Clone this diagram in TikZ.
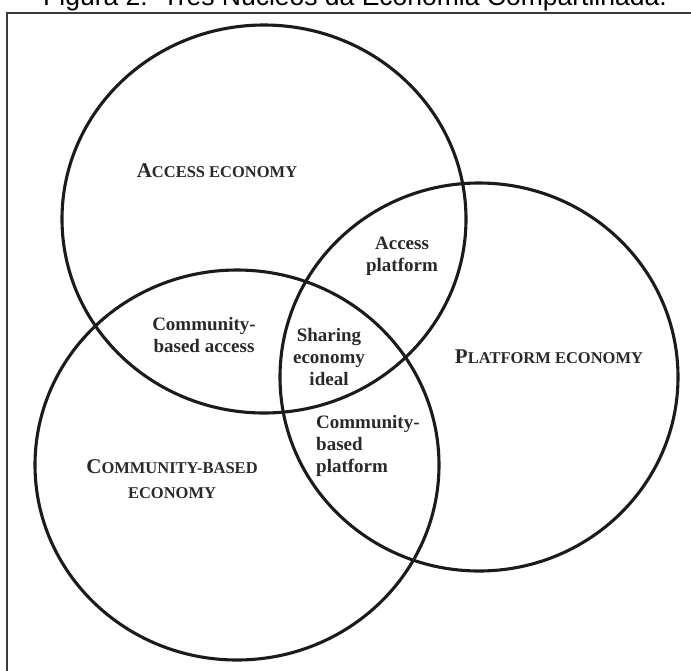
\documentclass[tikz,border=0pt]{standalone}
\usepackage{fontspec}
\setmainfont{Liberation Serif}
\newfontfamily\captionfont{Liberation Sans}
\usetikzlibrary{shapes.geometric}
\definecolor{ink}{HTML}{1C1A1A}
\definecolor{textink}{HTML}{2A2828}
\definecolor{framegray}{HTML}{3A3A3A}
% fake small caps: large initial, smaller capitals after it
\newcommand\scInitial[1]{{\fontsize{21}{25}\selectfont #1}}
\newcommand\scRest[1]{{\fontsize{16.5}{25}\selectfont #1}}
\begin{document}
\begin{tikzpicture}[x=1pt,y=-1pt,
  ring/.style={ellipse, draw=ink, line width=3.1pt, inner sep=0pt},
  lbl/.style={font=\bfseries\fontsize{19}{22}\selectfont, text=textink, inner sep=0pt},
  sclbl/.style={font=\bfseries\fontsize{16.5}{25}\selectfont, text=textink, inner sep=0pt, align=center}]
\useasboundingbox (0,0) rectangle (691,670);
% outer frame, running off the right and bottom edges
\draw[line width=1.4pt, draw=framegray] (7,13) rectangle (720,700);
% caption above the frame
\node[anchor=base, inner sep=0pt, font=\captionfont\fontsize{26.5}{28}\selectfont, text=black]
  (caption) at (355,5) {Figura 2:\ \ Três Núcleos da Economia Compartilhada.};
% the three overlapping economies
\node[ring, minimum width=404pt, minimum height=388pt] (access) at (264,219) {};
\node[ring, minimum width=398pt, minimum height=388pt] (platform) at (479,377) {};
\node[ring, minimum width=404pt, minimum height=390pt] (community) at (237,465) {};
% circle titles
\node[sclbl] (accessT) at (217,171) {\scInitial{A}\scRest{CCESS ECONOMY}};
\node[sclbl] (platformT) at (549,357) {\scInitial{P}\scRest{LATFORM ECONOMY}};
\node[sclbl] (communityT) at (172,479)
  {\scInitial{C}\scRest{OMMUNITY-BASED}\\\scRest{ECONOMY}};
% overlap labels
\node[lbl, align=center] (accplat) at (402,256) {Access\\platform};
\node[lbl, align=center] (commacc) at (204,335) {Community-\\based access};
\node[lbl, align=center] (ideal) at (329,357) {Sharing\\economy\\ideal};
\node[lbl, align=left, anchor=west] (commplat) at (316,446) {Community-\\based\\platform};
\end{tikzpicture}
\end{document}
